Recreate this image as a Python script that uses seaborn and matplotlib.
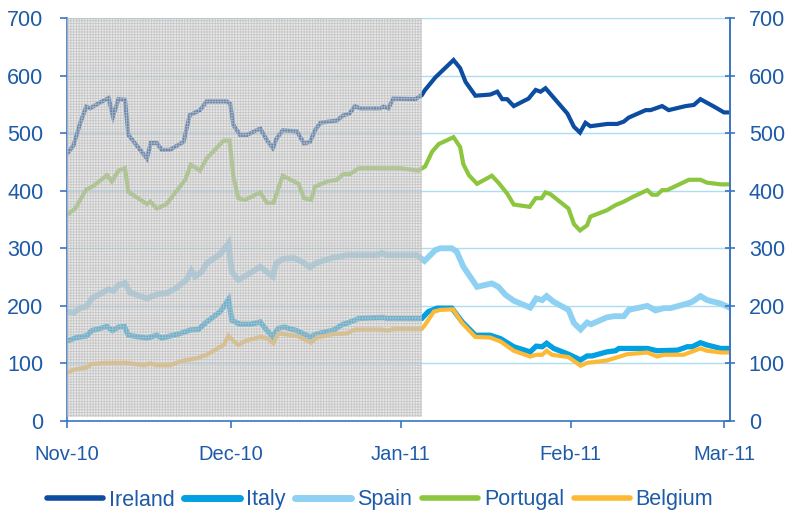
import numpy as np
import pandas as pd
import matplotlib
matplotlib.use("Agg")
import matplotlib.pyplot as plt
import matplotlib.dates as mdates
import seaborn as sns

# ---------------- data (day offsets from 1 Nov 2010, spread in bp) ----------------
start_date = "2010-11-01"
shade_end_day = 64.9

ireland_day = [0, 1.2, 2.4, 3.5, 4.2, 6, 7.6, 8.4, 9.4, 10.6, 11.2, 12.7, 14.6, 15.3, 16.4,
               17.3, 18.8, 21.3, 22.4, 24.3, 25.5, 29.2, 29.8, 30.4, 31.6, 32.9, 35.3, 36.5,
               37.6, 38.3, 39.4, 42, 43.3, 44.4, 45.3, 46.3, 49.3, 50.5, 51.6, 52.6, 53.5,
               57.2, 57.8, 58.7, 59.6, 63.6, 64.8, 65.4, 67.3, 70.6, 71.8, 72.8, 74.6, 77.3,
               78.6, 79.5, 80.4, 81.6, 84.3, 85.6, 86.5, 87.4, 91.4, 92.6, 93.7, 94.7, 95.6,
               98.7, 100.5, 101.7, 102.6, 105.7, 106.6, 108.7, 109.9, 113, 114.5, 115.7,
               118.2, 120, 121]
ireland_val = [464, 479, 517, 546, 543, 553, 561, 529, 559, 558, 497, 479, 456, 483, 483,
               471, 471, 485, 531, 540, 555, 555, 551, 514, 497, 497, 508, 488, 474, 491,
               505, 503, 482, 485, 505, 518, 522, 531, 534, 547, 543, 543, 546, 543, 560,
               559, 566, 575, 597, 627, 613, 589, 565, 567, 572, 559, 559, 547, 560, 575,
               572, 578, 534, 511, 501, 518, 512, 516, 516, 520, 527, 540, 540, 547, 540,
               547, 549, 559, 546, 536, 536]

italy_day = [0, 1.8, 3.6, 4.5, 7.3, 8.3, 9.4, 10.5, 11.2, 14.6, 16.4, 17.3, 20.7, 22.5, 24,
             25.5, 28, 29.5, 30.1, 31.6, 33.5, 35.3, 36.2, 37.5, 38.6, 39.7, 42, 44.4, 45.6,
             48.7, 50.2, 51.7, 53.3, 57.8, 58.4, 64.8, 66, 67.6, 70.3, 72.2, 74.6, 77.3,
             79.2, 81.6, 84.6, 85.7, 86.8, 87.6, 88.9, 91.6, 93.8, 95, 95.9, 98.6, 100.2,
             100.8, 102.3, 106, 107.8, 111.5, 113.3, 114.2, 115.7, 116.9, 119.4, 121]
italy_val = [139, 145, 148, 157, 164, 157, 163, 164, 149, 144, 149, 144, 152, 158, 159,
             172, 190, 211, 175, 168, 168, 172, 161, 147, 161, 163, 157, 146, 151, 158,
             167, 172, 178, 180, 178, 178, 190, 196, 196, 172, 149, 149, 143, 129, 120,
             130, 129, 135, 126, 116, 106, 113, 113, 120, 122, 126, 126, 126, 122, 123,
             129, 129, 136, 132, 126, 126]

spain_day = [0, 1.2, 2.4, 3.6, 4.5, 5.7, 7.6, 8.5, 9.4, 10.6, 11.5, 14.6, 16.4, 18.2, 20.1,
             21.9, 22.7, 23.4, 24.6, 25.5, 28, 29.5, 30.1, 31.3, 33.1, 35.3, 36.5, 37.6,
             38.2, 39.5, 41.4, 42.9, 44.4, 45.6, 48.7, 51.1, 56.6, 57.5, 58.4, 63.9, 65.3,
             67.3, 68.2, 70.3, 71.2, 72.4, 74.9, 77.6, 78.8, 80.1, 81.6, 84.6, 85.7, 86.8,
             87.6, 88.9, 91.6, 92.6, 93.8, 95, 95.7, 98.6, 99.9, 101.7, 102.6, 106, 107.5,
             109, 110.2, 113.3, 114.2, 115.7, 116.9, 119.4, 121]
spain_val = [190, 188, 196, 199, 213, 219, 229, 226, 236, 240, 223, 213, 220, 222, 232,
             246, 261, 251, 259, 274, 290, 309, 259, 245, 255, 268, 259, 251, 274, 282,
             283, 277, 267, 275, 284, 288, 288, 292, 288, 288, 278, 297, 300, 300, 294,
             268, 233, 239, 233, 219, 209, 197, 213, 210, 217, 207, 193, 170, 159, 171,
             168, 180, 182, 182, 193, 200, 192, 196, 196, 204, 207, 217, 210, 204, 197]

portugal_day = [0, 1.5, 3.5, 4.8, 7.3, 8.2, 9.4, 10.6, 11.2, 14.6, 15.2, 16.4, 18.2, 21.6,
                22.6, 24.3, 25.5, 28.6, 29.7, 30.4, 31.3, 32.5, 35.3, 36.5, 37.7, 39.4, 42.3,
                43.3, 44.6, 45.3, 47.5, 49.3, 50.5, 51.7, 53.3, 60.9, 64.2, 65.4, 66.7, 67.9,
                70.6, 71.8, 72.4, 73.4, 74.9, 77.6, 78.8, 80.4, 81.6, 84.5, 85.6, 86.7, 87.4,
                88.3, 91.6, 92.6, 93.7, 95, 95.6, 98.6, 100.2, 101.7, 103.5, 106, 106.9,
                107.8, 108.7, 109.6, 113.6, 115.7, 116.9, 119.4, 121]
portugal_val = [358, 369, 402, 408, 427, 416, 435, 439, 398, 377, 381, 369, 377, 419, 445,
                435, 456, 487, 487, 424, 387, 384, 397, 379, 379, 426, 412, 387, 384, 407,
                416, 419, 429, 429, 439, 439, 435, 442, 468, 481, 493, 476, 446, 427, 412,
                426, 414, 395, 376, 372, 387, 387, 397, 394, 369, 342, 331, 340, 355, 366,
                375, 381, 390, 401, 393, 393, 401, 401, 419, 419, 414, 411, 411]

belgium_day = [0, 1.2, 3.6, 4.5, 7.3, 10.9, 14, 15.2, 16.4, 18.8, 21.3, 23.7, 25.5, 28.6,
               29.5, 30.4, 31.3, 32.5, 35.3, 36.5, 37.7, 38.6, 42, 44.6, 45.6, 48.7, 51.1,
               52.6, 57.5, 58.4, 59.7, 64.8, 65.4, 67, 68.2, 70.5, 71.2, 72.2, 74.6, 77.3,
               79.2, 81.6, 84.6, 85.7, 86.8, 87.6, 88.6, 91.6, 93.8, 95, 98.6, 102.3, 106,
               107.8, 109, 112.6, 115.7, 116.9, 119.4, 121]
belgium_val = [84, 89, 93, 99, 101, 101, 97, 100, 97, 97, 105, 109, 115, 132, 148, 139, 132,
               139, 146, 144, 135, 152, 148, 136, 145, 151, 152, 159, 159, 157, 160, 160,
               167, 190, 193, 194, 184, 170, 146, 145, 138, 122, 112, 115, 115, 122, 115,
               111, 96, 101, 105, 116, 119, 112, 115, 115, 126, 122, 119, 119]

countries = ["Ireland", "Italy", "Spain", "Portugal", "Belgium"]
colors = ["#0c4da2", "#00a0e2", "#8ed1f2", "#8cc63e", "#fdb933"]
widths = [3.0, 3.8, 4.2, 3.0, 3.0]
y_ticks = [0, 100, 200, 300, 400, 500, 600, 700]
x_ticks = ["2010-11-01", "2010-12-01", "2011-01-01", "2011-02-01", "2011-03-01"]

# ---------------- build frame ----------------
t0 = pd.Timestamp(start_date)
series = {
    "Ireland": (ireland_day, ireland_val),
    "Italy": (italy_day, italy_val),
    "Spain": (spain_day, spain_val),
    "Portugal": (portugal_day, portugal_val),
    "Belgium": (belgium_day, belgium_val),
}
frames = []
for name, (d, v) in series.items():
    frames.append(pd.DataFrame({
        "date": t0 + pd.to_timedelta(np.array(d, dtype=float), unit="D"),
        "value": v,
        "country": name,
    }))
df = pd.concat(frames, ignore_index=True)

# ---------------- style ----------------
sns.set_theme(style="white")
plt.rcParams["font.family"] = ["Liberation Sans", "DejaVu Sans"]
plt.rcParams["hatch.linewidth"] = 0.6

label_color = "#1d5aa8"
spine_color = "#3a74c2"
grid_color = "#a9def4"

fig = plt.figure(figsize=(7.86, 5.13), dpi=100)
ax = fig.add_axes([67 / 786, 1 - 421 / 513, (730 - 67) / 786, (421 - 18) / 513])

for name, col, lw in zip(countries, colors, widths):
    sns.lineplot(data=df[df["country"] == name], x="date", y="value", ax=ax,
                 color=col, linewidth=lw, estimator=None, sort=False, label=name,
                 zorder=2, solid_joinstyle="miter")

# grid
for yv in y_ticks[1:]:
    ax.axhline(yv, color=grid_color, lw=1.0, zorder=1)

# shaded pre-period
x0 = t0
x1 = t0 + pd.Timedelta(days=shade_end_day)
ax.axvspan(x0, x1, ymin=0.011, ymax=1, facecolor="#cdcdcd", alpha=0.45, lw=0, zorder=3)
ax.axvspan(x0, x1, ymin=0.011, ymax=1, facecolor="none", edgecolor="#bdbdbd",
           hatch="++++++", alpha=0.75, lw=0, zorder=3)

ax.set_ylim(0, 700)
ax.set_xlim(t0, t0 + pd.Timedelta(days=121.1))
ax.set_yticks(y_ticks)
ax.set_xticks([pd.Timestamp(s) for s in x_ticks])
ax.xaxis.set_major_formatter(mdates.DateFormatter("%b-%y"))
ax.set_xlabel("")
ax.set_ylabel("")

for s in ["top"]:
    ax.spines[s].set_visible(False)
for s in ["left", "right", "bottom"]:
    ax.spines[s].set_color(spine_color)
    ax.spines[s].set_linewidth(1.2)

ax.tick_params(axis="y", direction="out", length=5, width=1.2, color=spine_color,
               labelcolor=label_color, labelsize=15.5, pad=12, left=True)
ax.tick_params(axis="x", direction="out", length=5, width=1.2, color=spine_color,
               labelcolor=label_color, labelsize=14.5, pad=12, bottom=True)

ax2 = ax.twinx()
ax2.set_ylim(0, 700)
ax2.set_yticks(y_ticks)
for s in ["top", "left", "bottom"]:
    ax2.spines[s].set_visible(False)
ax2.spines["right"].set_color(spine_color)
ax2.spines["right"].set_linewidth(1.2)
ax2.tick_params(axis="y", direction="inout", length=7, width=1.2, color=spine_color,
                labelcolor=label_color, labelsize=15.5, pad=10, right=True)
ax2.grid(False)

# legend
handles, labels = ax.get_legend_handles_labels()
ax.get_legend().remove()
leg = fig.legend(handles, labels, loc="center", bbox_to_anchor=(380 / 786, 1 - 500 / 513),
                 ncol=5, frameon=False, fontsize=15.5, handlelength=2.6,
                 handletextpad=0.28, columnspacing=0.45, labelcolor=label_color)
for line, lw in zip(leg.get_lines(), [4, 5, 5, 4, 4]):
    line.set_linewidth(lw)

fig.savefig("out.png", dpi=100)
